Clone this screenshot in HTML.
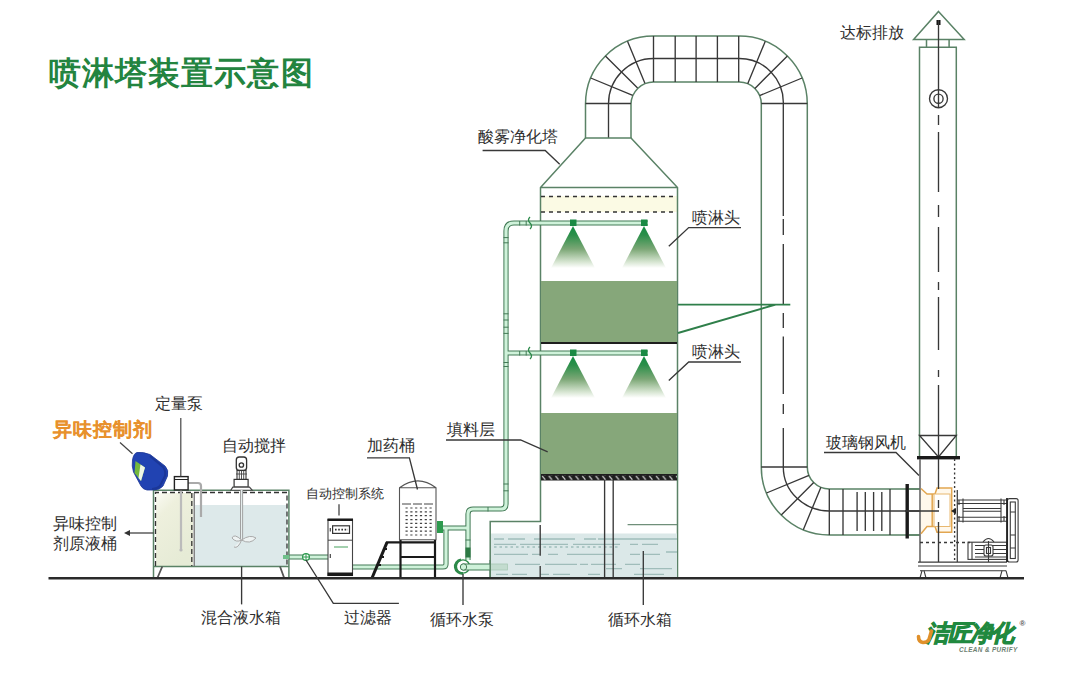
<!DOCTYPE html>
<html><head><meta charset="utf-8">
<style>
html,body{margin:0;padding:0;background:#fff;width:1080px;height:680px;overflow:hidden}
svg{display:block;font-family:"Liberation Sans",sans-serif}
.t{font-size:16px;fill:#2e2e2e;font-weight:500}
.g{stroke:#5a8266;fill:none;stroke-width:1.5}
.k{stroke:#383838;fill:none;stroke-width:1.35}
.gr{stroke:#555;fill:none;stroke-width:1.1}
.po{stroke:#437a56;fill:none;stroke-width:5.2;stroke-linejoin:round}
.pi{stroke:#cff2da;fill:none;stroke-width:3.2;stroke-linejoin:round}
.wl{stroke:#a0bdba;fill:none;stroke-width:1.3}
</style></head><body>
<svg width="1080" height="680" viewBox="0 0 1080 680">
<defs>
<linearGradient id="spray" x1="0" y1="0" x2="0" y2="1">
<stop offset="0" stop-color="#128c42"/>
<stop offset="0.22" stop-color="#2c8f4a"/>
<stop offset="0.55" stop-color="#7ca776"/>
<stop offset="0.85" stop-color="#d5e4d0"/>
<stop offset="1" stop-color="#ffffff"/>
</linearGradient>
<linearGradient id="cream" x1="0" y1="0" x2="0.5" y2="1">
<stop offset="0" stop-color="#fbfbf4"/>
<stop offset="0.3" stop-color="#eef0dd"/>
<stop offset="1" stop-color="#e6ebd6"/>
</linearGradient>
<pattern id="hatch" x="541" y="475.5" width="6.7" height="4.5" patternUnits="userSpaceOnUse">
<path d="M1,0.3 L4.2,4.2" stroke="#d8d8d8" stroke-width="1.2"/>
</pattern>
</defs>

<!-- TITLE -->
<text x="48.5" y="84.2" style="font-size:32px;font-weight:bold;fill:#23843f;letter-spacing:1.15px">喷淋塔装置示意图</text>

<!-- ===== DUCT ===== -->
<g id="duct">
<path class="g" d="M585.5,138 V104 A68,68 0 0 1 653.5,36 H739.3 A68,68 0 0 1 807.3,104 V467 A22,22 0 0 0 829.3,489 H920"/>
<path class="g" d="M631,138 V104 A22.5,22.5 0 0 1 653.5,82 H739.3 A22,22 0 0 1 761.3,104 V467 A68,68 0 0 0 829.3,535 H920"/>
<!-- dark dividers -->
<path class="k" d="M608.5,138 V104 A45,45.5 0 0 1 653.5,58.5 H739.3 A44,44 0 0 1 783.3,104 V216"/>
<path class="k" d="M783.3,219 V235 M783.3,244 V305 M783.3,313 V328 M783.3,336.5 V394 M783.3,404 V414 M783.3,428 V467 A46,44 0 0 0 829.3,511 H920"/>
<path class="k" d="M585.5,103.5 H631 M653.5,36 V82 M675.2,36 V82 M696.1,36 V82 M717.4,36 V82 M738.7,36 V82 M761.3,103.5 H807.3 M761.3,467 H807.3 M829.3,489 V535 M843,489 V535 M890,489 V535"/>
<path class="k" d="M632.7,95.4 L590.7,78.0 M637.6,88.1 L605.4,55.9 M644.9,83.2 L627.5,41.2 M759.6,95.6 L802.1,78.0 M754.9,88.4 L787.4,55.9 M747.7,83.7 L765.3,41.2 M809.0,475.4 L766.5,493.0 M813.7,482.6 L781.2,515.1 M820.9,487.3 L803.3,529.8"/>
<path class="k" d="M857.1,492 V531 M865.3,492 V531 M873.6,492 V531 M881.8,492 V531"/>
<rect x="905.5" y="484" width="3.4" height="54.5" fill="#1a1a1a"/>
<path class="g" d="M908.9,489 H920 M908.9,535 H920"/>
</g>

<!-- ===== STACK ===== -->
<g id="stack">
<path class="g" d="M938.5,11.4 L964.2,39.4 H913.6 Z"/>
<path class="g" d="M926.5,39.4 V47.3 M949.1,39.4 V47.3"/>
<path class="g" d="M919.5,457 V47.3 H956.3 V457"/>
<path class="k" d="M919.5,435.5 H956.3 L938.5,457 Z"/>
<rect x="936.5" y="20" width="4" height="5" fill="#111"/>
<path class="k" d="M938.5,20 V108"/>
<circle cx="938.5" cy="98.7" r="9" class="k"/>
<circle cx="938.5" cy="98.7" r="4.6" class="k"/>
<path class="k" d="M938.5,115 V125 M938.5,132 V192 M938.5,205 V217 M938.5,227 V272 M938.5,282 V290 M938.5,297 V350 M938.5,370 V377 M938.5,385 V457"/>
<rect x="917" y="456" width="43" height="3.4" fill="#1a1a1a"/>
</g>

<!-- ===== FAN ===== -->
<g id="fan">
<path d="M920,459 V562" stroke="#666" stroke-width="1.6"/>
<path d="M957.3,490 V562" stroke="#444" stroke-width="1.3"/>
<path class="k" d="M954.6,459 V562" stroke-dasharray="2 2.5"/>
<path class="k" d="M920,542.5 H970" stroke-dasharray="3 3" stroke-width="0.9"/>
<path d="M921,488.5 L927,494 H935 L937,488 H951.7 V532.2 H937 L935,526.5 H927 L921,533.7" fill="#fff8ec" stroke="#e2a650" stroke-width="1.5"/>
<path d="M932.2,494 V526.5" stroke="#e2a650" stroke-width="1.5"/>
<rect x="934" y="494" width="16" height="32.5" fill="#fff" stroke="#e8b870" stroke-width="1"/>
<path class="k" d="M938.5,459 V489 M938.5,500 V508 M938.5,522 V562 M905,511 H939" stroke-width="1.1"/>
<path d="M956,508 L951,511 L956,514 Z" fill="#222"/>
<g stroke="#3a3a3a" fill="none" stroke-width="1.1">
<path d="M957.3,500 H1007 M957.3,503.5 H1007 M963,508.5 H1001 M963,511.2 H1001 M957.3,517.3 H1007 M957.3,521.3 H1007"/>
<path d="M963,498.5 V522.5 M1001,498.5 V522.5 M959,500 V505 M959,516 V521 M1004,500 V505 M1004,516 V521"/>
<rect x="1007.5" y="498.6" width="10.6" height="63.4" rx="2"/>
<rect x="1010.3" y="502" width="5" height="56.5"/>
<path d="M1010.3,512 H1015.3 M1010.3,535 H1015.3 M1010.3,548 H1015.3"/>
<rect x="968" y="542.2" width="39" height="17.2"/>
<path d="M972,542.2 V559.4 M975,545.5 H1006 M975,549.5 H1006 M975,553.5 H1006 M975,557 H1006"/>
<rect x="984" y="545" width="9" height="11" rx="2" fill="#fff"/>
<rect x="986.5" y="547.5" width="4" height="6"/>
<path d="M988.5,541 V562 M983,542 Q988.5,535 994,542"/>
<path d="M918,562.1 H1007 M918,566 H1007 M920,570.7 H1006"/>
<path d="M922,570.7 L920,578 H926 L924,570.7 M1002,570.7 L1000,578 H1008 L1006,570.7"/>
</g>
<path d="M1007,498 V562" stroke="#222" stroke-width="1.8"/>
</g>

<!-- ===== TOWER ===== -->
<g id="tower">
<rect x="540.5" y="196" width="137" height="16" fill="#fbfae4"/>
<path class="g" d="M585.5,138 H631 L677.5,187.5 V578 M585.5,138 L540.5,187.5 V521.5 H490.2 V578 M540.5,187.5 H677.5"/>
<line x1="541" y1="196.5" x2="677" y2="196.5" stroke="#333" stroke-width="1.5" stroke-dasharray="4 4"/>
<line x1="541" y1="212" x2="677" y2="212" stroke="#333" stroke-width="1.5" stroke-dasharray="4 4"/>
<!-- packing -->
<rect x="541" y="281" width="136" height="61" fill="#86a77a"/>
<rect x="541" y="342" width="136" height="2" fill="#1e1e1e"/>
<rect x="541" y="413" width="136" height="61" fill="#86a77a"/>
<rect x="541" y="474" width="136" height="6.5" fill="#1e1e1e"/>
<rect x="541" y="475.5" width="136" height="4.5" fill="url(#hatch)"/>
<!-- sprays -->
<path d="M573,226 L551,268 H595 Z" fill="url(#spray)"/>
<path d="M644,226 L622,268 H666 Z" fill="url(#spray)"/>
<path d="M573,356 L551,398 H595 Z" fill="url(#spray)"/>
<path d="M644,356 L622,398 H666 Z" fill="url(#spray)"/>
<!-- support legs -->
<!-- water -->
<rect x="491" y="533.5" width="186" height="44" fill="#dbe8e8"/>
<path class="wl" d="M494,539 H504 M508,539 H525 M534,539 H575 M584,539 H596 M598,539 H677 M494,544.3 H516 M520,544.3 H568 M573,544.3 H620 M630,544.3 H638 M642,544.3 H658 M494,554.3 H528 M532,554.3 H540 M548,554.3 H558 M567,554.3 H613 M630,554.3 H640 M643,554.3 H660 M666,552 H677 M515,564.4 H540 M545,564.4 H577 M580,564.4 H588 M591,564.4 H616 M625,564.4 H640 M606,568.7 H622 M640,568.7 H672 M496,574.3 H508 M512,574.3 H527 M540,574.3 H549 M553,574.3 H570 M588,574.3 H600 M634,574.3 H664"/>
<path class="wl" d="M494,547 H620" stroke-dasharray="2.5 3" stroke-width="1.4"/>
<path class="k" d="M540.2,525 V555.7 M540.2,566 V578"/>
<path d="M627.6,524.6 H677" stroke="#6f8f7a" stroke-width="1.4"/>
<path class="k" d="M604.6,480 V578 M613.2,480 V578"/>
</g>

<!-- ===== PIPES ===== -->
<g id="pipes">
<path class="po" d="M648,223 H514 Q506,223 506,231 V504 Q506,509 501,509 H473 Q468,509 468,514 V560"/>
<path class="po" d="M648,353 H506 M468,528 H441 M446,528 V564 Q446,567 443,567 H352 M289,557 H328"/>
<path class="pi" d="M648,223 H514 Q506,223 506,231 V504 Q506,509 501,509 H473 Q468,509 468,514 V560"/>
<path class="pi" d="M648,353 H506 M468,528 H441 M446,528 V564 Q446,567 443,567 H352 M289,557 H328"/>
<!-- nozzles -->
<rect x="570" y="219.5" width="6.5" height="6.5" fill="#1a8a44"/>
<rect x="641" y="219.5" width="6.5" height="6.5" fill="#1a8a44"/>
<rect x="570" y="349.5" width="6.5" height="6.5" fill="#1a8a44"/>
<rect x="641" y="349.5" width="6.5" height="6.5" fill="#1a8a44"/>
<!-- valves on pipes -->
<path d="M530,217 q-3,3 0,6 q3,3 0,6 M530,347 q-3,3 0,6 q3,3 0,6" stroke="#2c8a4a" fill="none" stroke-width="1.3"/>
<path d="M503.5,237.6 H508.5 M503.5,242.8 H508.5 M503.5,313.8 H508.5 M503.5,320 H508.5 M503.5,327.2 H508.5 M503.5,333.4 H508.5 M503.5,362.5 H508.5 M503.5,366.5 H508.5 M503.5,484 H508.5 M503.5,490.8 H508.5 M519.7,221 V225.5 M526.2,221 V225.5 M519.7,351 V355.5 M526.2,351 V355.5 M488,507 V511.5 M465.5,540 H470.5" stroke="#437a56" stroke-width="1"/>
<rect x="437" y="521" width="6" height="12" fill="#2d9a4e"/>
<rect x="465.5" y="547.5" width="5" height="10" fill="#2d7a44"/>
<!-- pump -->
<circle cx="463" cy="566.5" r="6.6" fill="#fff" stroke="#2d8a4a" stroke-width="1.4"/>
<path d="M461,559.8 A6.8,6.8 0 0 0 463,573.3" stroke="#2d8a4a" stroke-width="2.6" fill="none"/>
<rect x="463" y="564" width="27.5" height="6" fill="#cff2da" stroke="#437a56" stroke-width="1"/>
<rect x="490.5" y="564" width="17" height="6" fill="#c3dccf" stroke="#a9c9b6" stroke-width="0.8"/>
<path d="M490.2,560 V578" stroke="#5a8266" stroke-width="1.5"/>
<circle cx="463.5" cy="567" r="3.2" fill="#cff2da" stroke="#437a56" stroke-width="1"/>
<!-- filter -->
<circle cx="306" cy="557" r="3.4" fill="#fff" stroke="#2d9a4e" stroke-width="1.2"/>
<path d="M306,553 V561 M302,557 H310" stroke="#2d9a4e" stroke-width="1"/>
</g>

<!-- ===== DOSING TANK ===== -->
<g id="dosing">
<path class="gr" d="M399.5,539.7 V487.7 Q418,474 436,487.7 V539.7 Z M399.5,487.7 H436" stroke-width="1.3"/>
<path d="M402,504 H434" stroke="#444" stroke-width="1" stroke-dasharray="9 2"/>
<path d="M405.5,508.0 H434 M405.5,511.9 H434 M405.5,515.7 H434 M405.5,519.6 H434 M405.5,523.4 H434 M405.5,527.3 H434 M405.5,531.1 H434 M405.5,535.0 H434" stroke="#444" stroke-width="1.2" stroke-dasharray="2.2 2.6"/>
<path d="M400.5,540 V578 M435,540 V578 M386,542.3 H436 M400,557 H436" stroke="#1a1a1a" stroke-width="2.2"/>
<path d="M372,578 L387,542.3" stroke="#1a1a1a" stroke-width="3"/>
<path d="M377,565 h4 M380,557 h4 M384,549 h3" stroke="#1a1a1a" stroke-width="2"/>
</g>

<!-- ===== CABINET ===== -->
<g id="cabinet">
<rect x="328" y="519.5" width="24.5" height="56" fill="#fff" stroke="#444" stroke-width="1.1"/>
<rect x="327.5" y="518.5" width="25.5" height="2.5" fill="#1a1a1a"/>
<rect x="327.5" y="572.5" width="25.5" height="3.5" fill="#1a1a1a"/>
<path d="M328,540.2 H352.5" stroke="#444" stroke-width="1"/>
<rect x="332.6" y="525.8" width="16.9" height="7.6" fill="#fff" stroke="#333" stroke-width="1.2"/>
<path d="M335,529.6 H348" stroke="#333" stroke-width="1.6" stroke-dasharray="1.6 1.6"/>

<path d="M339,504.3 V515.6" stroke="#444" stroke-width="1.3"/>
<path d="M330.3,528 V531.5 M330.3,554 V558" stroke="#444" stroke-width="1.2"/>
<path d="M334,547 H348" stroke="#8cc49a" stroke-width="1.6"/>
</g>

<!-- ===== MIXING TANK ===== -->
<g id="mixing">
<rect x="156" y="493" width="37" height="73" fill="url(#cream)"/>
<rect x="195" y="505" width="92" height="61" fill="#dde9ea"/>
<path class="g" d="M153.5,578 V490.3 H288.9 V578 M153.5,566.5 H288.9" stroke="#6fa27e"/>
<path d="M155.5,566 V492.5 H287 V566" stroke="#333" stroke-width="1.3" fill="none" stroke-dasharray="5 3"/>
<path d="M191.8,493 V566" stroke="#333" stroke-width="1.3" stroke-dasharray="5 3"/>
<path d="M194.2,493 V566" stroke="#666" stroke-width="1.2"/>
<path d="M162.3,566.5 L157.4,578 M280,566.5 L284.2,578" stroke="#555" stroke-width="1.8"/>
<path d="M181,489.5 V550" stroke="#bbb" stroke-width="2.2"/>
<circle cx="181" cy="550" r="1.6" fill="#bbb"/>
<path d="M188,483 H198 Q201,483 201,486 V517" stroke="#aaa" stroke-width="2.2" fill="none"/>
<rect x="174.4" y="476.6" width="13.7" height="13.3" fill="#fff" stroke="#222" stroke-width="1.4"/>
<path d="M174.4,479.5 H188" stroke="#222" stroke-width="1"/>
<path d="M180.8,418 V476.6" stroke="#444" stroke-width="1.2"/>
<!-- stirrer -->
<rect x="236.3" y="457" width="10.3" height="13.5" rx="3" fill="#fff" stroke="#333" stroke-width="1.3"/>
<circle cx="241.4" cy="465" r="2.2" fill="none" stroke="#333" stroke-width="1.3"/>
<rect x="237" y="470.5" width="9" height="9" fill="#fff" stroke="#333" stroke-width="1.1"/>
<path d="M239.3,471 V479 M241.5,471 V479 M243.7,471 V479 M236,474 H247" stroke="#444" stroke-width="0.9"/>
<rect x="234.1" y="479.4" width="14" height="7.7" fill="#fff" stroke="#333" stroke-width="1.2"/>
<path d="M232.8,487.1 H249.5 L252.3,490.3 H230.8 Z" fill="#fff" stroke="#444" stroke-width="1.1"/>
<path d="M241.6,490 V541" stroke="#999" stroke-width="3"/>
<path d="M241.6,490 V541" stroke="#e6eeee" stroke-width="1.2"/>
<path d="M241.6,540 Q234,533 232,538 Q236,543 241.6,540 Q250,534 256,538 Q250,545 241.6,540 Q238,549 234,547" stroke="#aaa" stroke-width="1" fill="#eef3f3"/>
<path d="M283,557 H289" stroke="#6fc08a" stroke-width="4"/>
</g>

<!-- ===== JUG ===== -->
<g id="jug">
<path d="M137,452.5 Q143,451.8 150,454.5 L165,466 Q169,470 167.5,476 L163,486 Q160,490 153,490 L147,490 Q143,489.5 141,486 L133.5,472 Q131.5,466 132.5,460 Q133.5,453.5 137,452.5 Z" fill="#2143b2" stroke="#1a3594" stroke-width="0.8"/>
<path d="M150,456 L163,467 Q166,471 165,476 L160,486 Q157,489 152,489" fill="none" stroke="#1b3799" stroke-width="2"/>
<path d="M135.5,461 L145,467.5 L141,481 L134.5,473 Z" fill="#74b83c"/>
<path d="M140.5,464.5 L145,467.5 L141,481 L138.5,478 Z" fill="#eef6e6"/>
<path d="M120,442.5 L132.5,453.8" stroke="#444" stroke-width="1.2"/>
</g>

<!-- ===== GROUND ===== -->
<line x1="48.5" y1="578.3" x2="1024" y2="578.3" stroke="#2a2a2a" stroke-width="2.4"/>

<!-- ===== LABELS ===== -->
<g>
<text class="t" x="478" y="142">酸雾净化塔</text>
<polyline class="k" points="482.6,150.5 545.2,150.5 559.7,164.3"/>
<text class="t" x="692" y="223">喷淋头</text>
<polyline class="k" points="741,227.6 688.7,227.6 668.8,246.3"/>
<text class="t" x="692" y="357">喷淋头</text>
<polyline class="k" points="741,362 688.7,362 668.8,380.5"/>
<path d="M678,304.6 H790.3 M678,333 L775.7,304.6" stroke="#2f7f4a" stroke-width="1.9" fill="none"/>
<text class="t" x="840" y="38">达标排放</text>
<text class="t" x="826" y="447.5">玻璃钢风机</text>
<polyline class="k" points="824,452.5 896,452.5 919,475.6"/>
<text class="t" x="446.6" y="435">填料层</text>
<polyline class="k" points="446,440 520.6,440 547.7,451.8"/>
<text class="t" x="367" y="451">加药桶</text>
<polyline class="k" points="367,457.8 409.4,457.8 417.5,489.5"/>
<text class="t" x="306.3" y="497.8" style="font-size:12.7px">自动控制系统</text>
<text class="t" x="222.4" y="451">自动搅拌</text>
<text class="t" x="155" y="409">定量泵</text>
<text x="52.5" y="436" style="font-size:19px;font-weight:bold;fill:#e8912c;stroke:#e8912c;stroke-width:0.1;letter-spacing:1px">异味控制剂</text>
<text class="t" x="52.5" y="529">异味控制</text>
<text class="t" x="52.5" y="549">剂原液桶</text>
<path d="M127,533 H153.5" stroke="#333" stroke-width="1.2"/>
<path d="M124,533 L130,530 V536 Z" fill="#333"/>
<text class="t" x="201" y="622.5">混合液水箱</text>
<path class="k" d="M241.6,566.5 V604.4"/>
<text class="t" x="344.4" y="622.5">过滤器</text>
<polyline class="k" points="306,560 333.3,603.3 398.9,603.3"/>
<text class="t" x="430.4" y="625">循环水泵</text>
<path class="k" d="M463,574 V605"/>
<text class="t" x="608" y="625">循环水箱</text>
<path class="k" d="M643.3,551 V605"/>
</g>

<!-- ===== LOGO ===== -->
<g id="logo">
<text x="926" y="641" style="font-size:23px;font-weight:900;font-style:italic;fill:#21893f;stroke:#21893f;stroke-width:1.1;letter-spacing:-1.2px">洁匠净化</text>
<path d="M931.5,631 L929,639.5 Q927.5,642.5 923,642.5 Q918.5,642 918.5,636.5" stroke="#e0902a" stroke-width="3.6" fill="none" stroke-linecap="round"/>
<text x="1019.5" y="626" style="font-size:8px;font-weight:bold;fill:#555">®</text>
<text x="959" y="651.5" style="font-size:6.4px;font-weight:bold;font-style:italic;fill:#6e7f72;letter-spacing:0.35px">CLEAN &amp; PURIFY</text>
</g>

</svg>
</body></html>
